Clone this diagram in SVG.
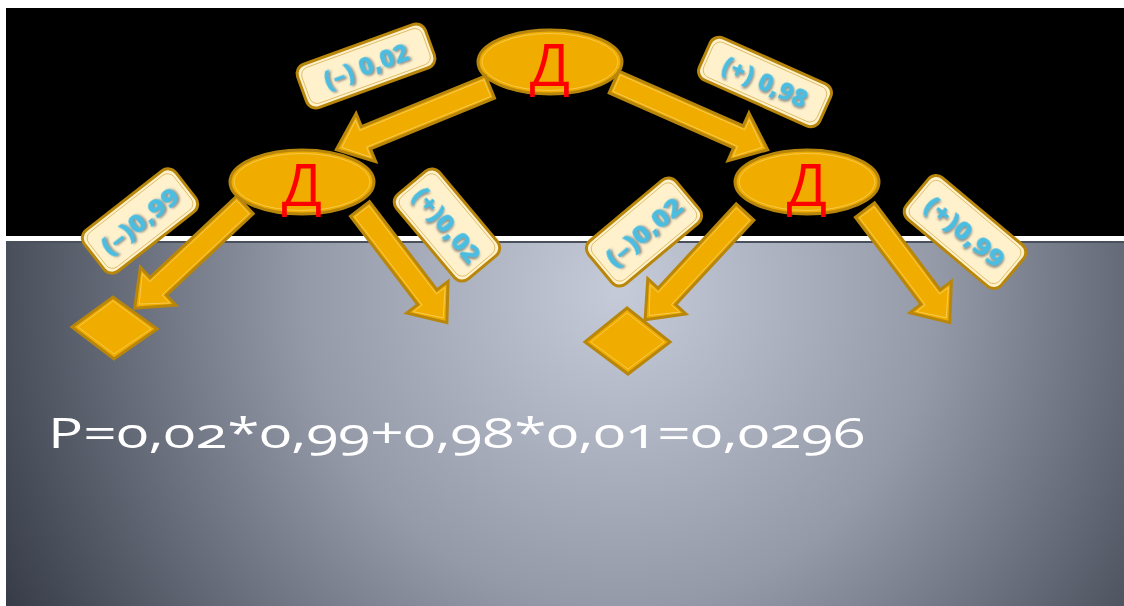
<svg xmlns="http://www.w3.org/2000/svg" width="1124" height="606" viewBox="0 0 1124 606">
<defs>
<radialGradient id="bg" gradientUnits="userSpaceOnUse" cx="620" cy="290" r="700">
<stop offset="0" stop-color="#c6cbd9"/>
<stop offset="0.45" stop-color="#959aa9"/>
<stop offset="1" stop-color="#343945"/>
</radialGradient>
<filter id="sh" x="-20%" y="-20%" width="140%" height="140%">
<feDropShadow dx="1.5" dy="1.5" stdDeviation="0.8" flood-color="#6a6a6a" flood-opacity="0.8"/>
</filter>
</defs>
<style>
.gold{fill:#f0ad00;stroke:#b8860b;stroke-width:3}
.gin{fill:none;stroke:#f8cf5a;stroke-width:0.8}
.dl{font-family:"Open Sans","Liberation Sans",sans-serif;font-weight:400;font-size:59px;fill:#ff0000;text-anchor:middle}
.lb{fill:#fff1cc;stroke:#b8860b;stroke-width:3}
.lbi{fill:none;stroke:#d9b65a;stroke-width:0.8}
.lt{font-family:"Open Sans","DejaVu Sans",sans-serif;font-weight:800;font-size:25px;fill:#4cbde0;text-anchor:middle;filter:url(#sh)}
.f{font-family:"Open Sans","Liberation Sans",sans-serif;font-size:42px;fill:#ffffff;font-variant-numeric:oldstyle-nums}
</style>
<rect x="0" y="0" width="1124" height="606" fill="#ffffff"/>
<rect x="6" y="8" width="1118" height="228" fill="#000000"/>
<rect x="6" y="241" width="1118" height="365" fill="url(#bg)"/>
<line x1="6" y1="242" x2="1124" y2="242" stroke="#4a4f5c" stroke-width="2"/>

<g id="node-top">
<ellipse class="gold" cx="550" cy="62" rx="72" ry="32"/>
<ellipse class="gin" cx="550" cy="62" rx="68" ry="28.5"/>
<text class="dl" x="550" y="86">Д</text>
</g>
<g id="node-left">
<ellipse class="gold" cx="302" cy="182" rx="72" ry="32"/>
<ellipse class="gin" cx="302" cy="182" rx="68" ry="28.5"/>
<text class="dl" x="302" y="206">Д</text>
</g>
<g id="node-right">
<ellipse class="gold" cx="807" cy="182" rx="72" ry="32"/>
<ellipse class="gin" cx="807" cy="182" rx="68" ry="28.5"/>
<text class="dl" x="807" y="206">Д</text>
</g>
<g id="leaf-left">
<polygon class="gold" points="72,327 113,297 157,329 114,359"/>
<polygon class="gin" points="78,327 113,301 151,329 114,354"/>
</g>
<g id="leaf-right">
<polygon class="gold" points="585,342 627,308 670,342 628,374"/>
<polygon class="gin" points="591,342 627,313 664,342 628,369"/>
</g>

<g id="connectors">
<g transform="translate(490,87) rotate(157.8)">
<path class="gold" d="M0,-12 L134,-12 L134,-26 L166,0 L134,26 L134,12 L0,12 Z"/>
<path class="gin" d="M3,-9 L137,-9 L137,-20 L160,0 L137,20 L137,9 L3,9 Z"/>
</g>
<g transform="translate(614,82) rotate(23.8)">
<path class="gold" d="M0,-12 L136,-12 L136,-26 L168,0 L136,26 L136,12 L0,12 Z"/>
<path class="gin" d="M3,-9 L139,-9 L139,-20 L162,0 L139,20 L139,9 L3,9 Z"/>
</g>
<g transform="translate(245,205) rotate(136.9)">
<path class="gold" d="M0,-12 L119,-12 L119,-26 L151,0 L119,26 L119,12 L0,12 Z"/>
<path class="gin" d="M3,-9 L122,-9 L122,-20 L145,0 L122,20 L122,9 L3,9 Z"/>
</g>
<g transform="translate(360,209) rotate(52.6)">
<path class="gold" d="M0,-12 L111,-12 L111,-26 L143,0 L111,26 L111,12 L0,12 Z"/>
<path class="gin" d="M3,-9 L114,-9 L114,-20 L137,0 L114,20 L114,9 L3,9 Z"/>
</g>
<g transform="translate(745,212) rotate(132.8)">
<path class="gold" d="M0,-12 L115,-12 L115,-26 L147,0 L115,26 L115,12 L0,12 Z"/>
<path class="gin" d="M3,-9 L118,-9 L118,-20 L141,0 L118,20 L118,9 L3,9 Z"/>
</g>
<g transform="translate(865,210) rotate(53)">
<path class="gold" d="M0,-12 L109,-12 L109,-26 L141,0 L109,26 L109,12 L0,12 Z"/>
<path class="gin" d="M3,-9 L112,-9 L112,-20 L135,0 L112,20 L112,9 L3,9 Z"/>
</g>
</g>

<g id="labels">
<g transform="translate(366,66) rotate(-20)">
<rect class="lb" x="-68" y="-23" width="136" height="46" rx="10"/>
<rect class="lbi" x="-64" y="-19" width="128" height="38" rx="8"/>
<text class="lt" x="0" y="9">(–) 0,02</text>
</g>
<g transform="translate(765,82) rotate(24)">
<rect class="lb" x="-66" y="-23" width="132" height="46" rx="10"/>
<rect class="lbi" x="-62" y="-19" width="124" height="38" rx="8"/>
<text class="lt" x="0" y="9">(+) 0,98</text>
</g>
<g transform="translate(140,221) rotate(-38)">
<rect class="lb" x="-58" y="-26" width="116" height="52" rx="10"/>
<rect class="lbi" x="-54" y="-22" width="108" height="44" rx="8"/>
<text class="lt" x="0" y="9" textLength="92" lengthAdjust="spacingAndGlyphs">(–)0,99</text>
</g>
<g transform="translate(447,225) rotate(50)">
<rect class="lb" x="-55" y="-28" width="110" height="56" rx="10"/>
<rect class="lbi" x="-51" y="-24" width="102" height="48" rx="8"/>
<text class="lt" x="0" y="9" textLength="90" lengthAdjust="spacingAndGlyphs">(+)0,02</text>
</g>
<g transform="translate(644,232) rotate(-40)">
<rect class="lb" x="-57" y="-28" width="114" height="56" rx="10"/>
<rect class="lbi" x="-53" y="-24" width="106" height="48" rx="8"/>
<text class="lt" x="0" y="9" textLength="92" lengthAdjust="spacingAndGlyphs">(–)0,02</text>
</g>
<g transform="translate(965,232) rotate(40)">
<rect class="lb" x="-62" y="-27" width="124" height="54" rx="10"/>
<rect class="lbi" x="-58" y="-23" width="116" height="46" rx="8"/>
<text class="lt" x="0" y="9" textLength="96" lengthAdjust="spacingAndGlyphs">(+)0,99</text>
</g>
</g>

<text class="f" x="48" y="448" textLength="817" lengthAdjust="spacingAndGlyphs">P=0,02*0,99+0,98*0,01=0,0296</text>
</svg>
